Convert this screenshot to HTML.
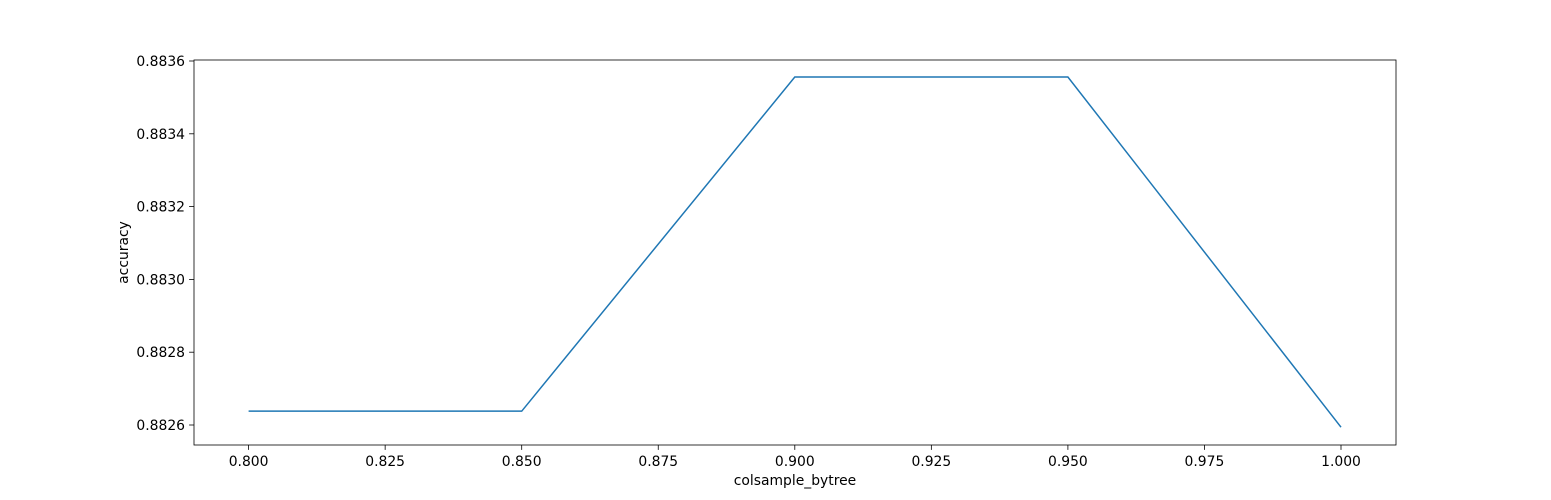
<!DOCTYPE html>
<html><head><meta charset="utf-8"><style>
body{margin:0;background:#fff;}
svg{display:block;font-family:"DejaVu Sans","Liberation Sans",sans-serif;}
</style></head><body>
<svg id="chart" width="1551" height="500" xmlns="http://www.w3.org/2000/svg"></svg>
<script>
const xValues=[0.80,0.85,0.90,0.95,1.00];
const yValues=[0.882638,0.882638,0.883556,0.883556,0.882594];
const xTicks=[0.800,0.825,0.850,0.875,0.900,0.925,0.950,0.975,1.000];
const yTicks=[0.8826,0.8828,0.8830,0.8832,0.8834,0.8836];
const L=194,R=1396,T=60,B=445;
const X0=248.6,X1=1341;
function sx(v){return X0+(v-0.8)/0.2*(X1-X0);}
function sy(v){return 425-(v-0.8826)/0.001*364;}
const svg=document.getElementById('chart');
const NS='http://www.w3.org/2000/svg';
function mk(t,a){const e=document.createElementNS(NS,t);for(const k in a)e.setAttribute(k,a[k]);svg.appendChild(e);return e;}
xTicks.forEach(v=>{
  const x=sx(v);
  const t=mk('line',{x1:x,x2:x,y1:B,y2:B+4.9,stroke:'#000','stroke-width':0.8});
  
  
  const l=mk('text',{x:x,y:B+21,'text-anchor':'middle','font-size':13.9});
  l.textContent=v.toFixed(3);
  
  
});
yTicks.forEach(v=>{
  const y=sy(v);
  const t=mk('line',{x1:L-4.9,x2:L,y1:y,y2:y,stroke:'#000','stroke-width':0.8});
  
  
  const l=mk('text',{x:L-9,y:y+5,'text-anchor':'end','font-size':13.9});
  l.textContent=v.toFixed(4);
  
  
});
const pts=xValues.map((v,i)=>sx(v)+','+sy(yValues[i])).join(' ');
const line=mk('polyline',{points:pts,fill:'none',stroke:'#1f77b4','stroke-width':1.5});


const frame=mk('rect',{x:L,y:T,width:R-L,height:B-T,fill:'none',stroke:'#000','stroke-width':0.8});


const xt=mk('text',{x:(L+R)/2,y:485,'text-anchor':'middle','font-size':13.9});
xt.textContent='colsample_bytree';


const yt=mk('text',{x:0,y:0,'text-anchor':'middle','font-size':13.9,transform:'translate(128,'+((T+B)/2)+') rotate(-90)'});
yt.textContent='accuracy';


</script>
</body></html>
